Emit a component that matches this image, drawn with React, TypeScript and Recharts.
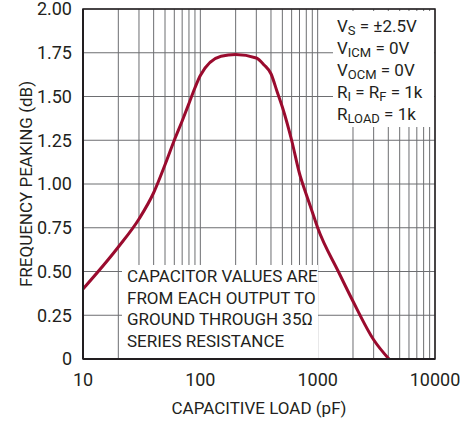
import { CartesianGrid, Line, LineChart, XAxis, YAxis } from 'recharts'

const capLoad = [
  10, 20, 30, 40, 50, 60, 70, 80, 90, 100, 150, 200, 300, 350, 400, 450, 500,
  600, 700, 800, 900, 1000, 1500, 2000, 3000, 4050,
]
const peaking = [
  0.4, 0.64, 0.8, 0.95, 1.11, 1.25, 1.36, 1.46, 1.55, 1.62, 1.73, 1.74, 1.72,
  1.68, 1.63, 1.53, 1.44, 1.25, 1.06, 0.94, 0.84, 0.75, 0.5, 0.33, 0.11, 0,
]

const xTicks = [
  10, 20, 30, 40, 50, 60, 70, 80, 90, 100, 200, 300, 400, 500, 600, 700, 800,
  900, 1000, 2000, 3000, 4000, 5000, 6000, 7000, 8000, 9000, 10000,
]
const xLabels = [10, 100, 1000, 10000]
const yTicks = [0, 0.25, 0.5, 0.75, 1, 1.25, 1.5, 1.75, 2]

const conditions = [
  { main: 'V', sub: 'S', rest: ' = ±2.5V' },
  { main: 'V', sub: 'ICM', rest: ' = 0V' },
  { main: 'V', sub: 'OCM', rest: ' = 0V' },
  { main: 'R', sub: 'I', rest: ' = R', sub2: 'F', rest2: ' = 1k' },
  { main: 'R', sub: 'LOAD', rest: ' = 1k' },
]
const note = [
  'CAPACITOR VALUES ARE',
  'FROM EACH OUTPUT TO',
  'GROUND THROUGH 35Ω',
  'SERIES RESISTANCE',
]

const data = capLoad.map((c, i) => ({ c, p: peaking[i] }))

const font = '"Liberation Sans Narrow", "Roboto", sans-serif'
const ink = '#231f20'

export default function App() {
  return (
    <div style={{ position: 'absolute', left: 0, top: 0, width: 465, height: 421, background: '#fff', fontFamily: font }}>
      <LineChart width={465} height={421} data={data} margin={{ top: 9, right: 30, left: 0, bottom: 0 }}>
        <CartesianGrid stroke="#6d6e71" strokeWidth={1} verticalValues={xTicks} horizontalValues={yTicks} />
        <XAxis
          dataKey="c"
          type="number"
          scale="log"
          domain={[10, 10000]}
          ticks={xTicks}
          interval={0}
          tickFormatter={(v: number) => (xLabels.includes(v) ? String(v) : '')}
          tickLine={false}
          tickSize={0}
          tickMargin={14}
          height={62}
          axisLine={{ stroke: ink, strokeWidth: 2 }}
          tick={{ fill: ink, fontSize: 18, fontFamily: font }}
          allowDataOverflow
        />
        <YAxis
          type="number"
          domain={[0, 2]}
          ticks={yTicks}
          interval={0}
          tickFormatter={(v: number) => (v === 0 ? '0' : v.toFixed(2))}
          tickLine={false}
          tickSize={0}
          tickMargin={11}
          width={83}
          axisLine={{ stroke: ink, strokeWidth: 2 }}
          tick={{ fill: ink, fontSize: 18, fontFamily: font }}
        />
        <Line
          type="monotone"
          dataKey="p"
          stroke="#9a0b2e"
          strokeWidth={3}
          dot={false}
          isAnimationActive={false}
        />
      </LineChart>
      <svg width={465} height={421} style={{ position: 'absolute', left: 0, top: 0, pointerEvents: 'none' }}>
        <rect x={83} y={9} width={352} height={350} fill="none" stroke={ink} strokeWidth={1.5} />
        <rect x={333} y={11} width={101} height={116} fill="#fff" />
        <rect x={122} y={265} width={196} height={93} fill="#fff" />
        <g fontFamily={font} fontSize={17} fill={ink}>
          {conditions.map((r, i) => (
            <text key={i} x={337} y={32 + i * 22}>
              {r.main}
              <tspan fontSize={13} dy={3}>{r.sub}</tspan>
              <tspan dy={-3}>{r.rest}</tspan>
              {r.sub2 ? <tspan fontSize={13} dy={3}>{r.sub2}</tspan> : null}
              {r.rest2 ? <tspan dy={-3}>{r.rest2}</tspan> : null}
            </text>
          ))}
          {note.map((t, i) => (
            <text key={i} x={127} y={282 + i * 21.5}>{t}</text>
          ))}
          <text x={259} y={414} textAnchor="middle">CAPACITIVE LOAD (pF)</text>
          <text x={32} y={184} textAnchor="middle" transform="rotate(-90 32 184)">
            FREQUENCY PEAKING (dB)
          </text>
        </g>
      </svg>
    </div>
  )
}
